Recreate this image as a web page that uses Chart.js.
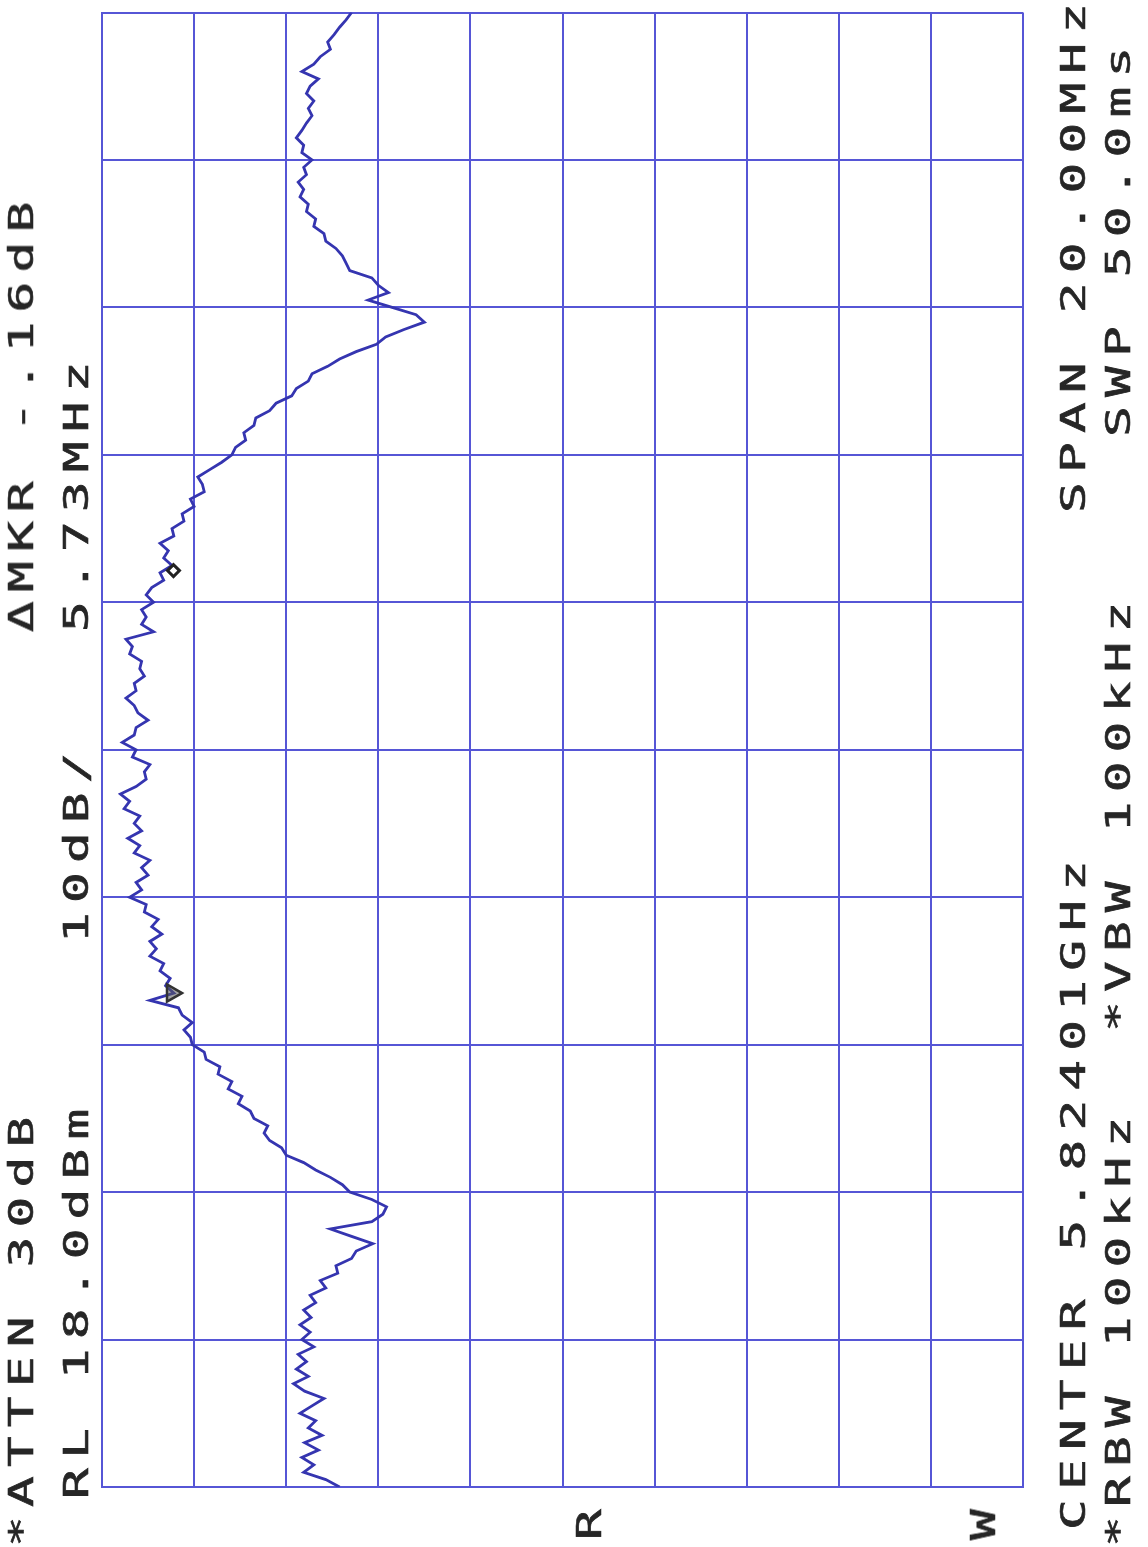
<!DOCTYPE html>
<html>
<head>
<meta charset="utf-8">
<script src="https://cdn.jsdelivr.net/npm/chart.js@4.4.1/dist/chart.umd.min.js"></script>
<style>
  html, body { margin:0; padding:0; background:#ffffff; overflow:hidden; }
  #wrap { position:relative; width:1148px; height:1547px; }
  canvas { position:absolute; left:0; top:0; }
  .t { position:absolute; font-family:'DejaVu Sans Mono', monospace; font-size:33px; line-height:33px;
       letter-spacing:5.9px; color:#262626; white-space:pre; transform-origin:0 0;
       transform:rotate(-90deg) scale(1.55,1); -webkit-text-stroke:0.6px #262626; }
</style>
</head>
<body>
<div id="wrap">
  <canvas id="c" width="1148" height="1547"></canvas>
  <div class="t" style="left:5px;top:1547px">*ATTEN 30dB</div>
  <div class="t" style="left:5px;top:632px">ΔMKR -.16dB</div>
  <div class="t" style="left:60px;top:1499px">RL 18.0dBm</div>
  <div class="t" style="left:60px;top:943px">10dB/</div>
  <div class="t" style="left:60px;top:632px">5.73MHz</div>
  <div class="t" style="left:1057px;top:1530px">CENTER 5.82401GHz</div>
  <div class="t" style="left:1057px;top:513px">SPAN 20.00MHz</div>
  <div class="t" style="left:1102px;top:1547px">*RBW 100kHz</div>
  <div class="t" style="left:1102px;top:1032px">*VBW 100kHz</div>
  <div class="t" style="left:1102px;top:437px">SWP 50.0ms</div>
  <div class="t" style="left:573px;top:1540px">R</div>
  <div class="t" style="left:967px;top:1540px">W</div>
</div>
<script>
// Sweep: 201 points, offset from centre frequency (MHz), 5.82401 GHz centre, 20 MHz span
const FREQ_START = -10;   // MHz
const FREQ_STEP = 0.1;    // MHz per sweep point
// Trace amplitude (dBm), low frequency -> high frequency
const traceDbm = [
  -7.8,-6.3,-3.9,-5.0,-3.7,-5.5,-4.0,-5.9,-4.4,-5.2,
  -3.5,-4.8,-6.1,-4.0,-2.8,-4.4,-3.1,-4.2,-3.3,-5.0,
  -3.7,-4.6,-3.5,-4.7,-3.9,-5.2,-4.6,-6.3,-5.7,-7.6,
  -7.4,-9.1,-9.6,-11.4,-9.1,-6.8,-11.3,-12.5,-12.9,-11.3,
  -8.9,-8.1,-6.8,-5.2,-3.9,-2.0,-1.5,-0.2,0.4,0.0,
  1.5,1.9,3.2,2.8,4.3,3.9,5.4,5.2,6.7,6.9,
  8.2,8.4,9.1,8.2,9.3,9.7,12.8,10.2,11.1,10.6,
  11.7,11.3,12.8,12.1,12.8,11.5,12.6,11.9,13.4,13.2,
  15.0,13.7,14.3,13.0,13.7,12.8,14.5,13.9,15.2,13.7,
  14.5,13.9,15.6,15.0,16.0,14.3,13.2,13.4,12.8,14.7,
  14.3,15.8,14.5,14.3,13.0,14.1,14.5,15.4,14.3,14.5,
  13.4,13.9,13.7,15.0,14.7,15.4,12.4,13.7,13.2,13.7,
  12.4,13.2,12.6,11.3,11.7,10.4,11.3,10.8,11.7,10.2,
  10.4,9.1,9.3,8.0,8.4,6.9,7.1,7.6,6.3,5.0,
  3.9,3.5,2.4,2.6,1.5,1.3,-0.2,-0.9,-2.6,-3.1,
  -4.4,-4.8,-6.5,-7.8,-9.6,-11.8,-12.8,-14.8,-17.0,-16.1,
  -13.5,-10.9,-13.1,-12.0,-11.3,-8.9,-8.5,-8.1,-7.4,-6.3,
  -6.1,-5.0,-5.2,-4.2,-4.4,-3.5,-3.9,-3.3,-4.2,-3.9,
  -4.8,-3.7,-3.9,-3.1,-3.7,-4.2,-4.8,-4.4,-5.0,-4.2,
  -4.6,-5.5,-3.7,-5.0,-5.7,-6.8,-6.5,-7.2,-7.8,-8.5,
  -9.1
];
// Markers: reference (triangle) and delta (diamond)
const markerRef = [{ f: -3.30, dbm: 10.4 }];
const markerDelta = [{ f: 2.43, dbm: 10.24 }];
// Graticule: 10 dB/div from RL 18 dBm, 2 MHz/div
const AMP_TICKS = [18, 8, -2, -12, -22, -32, -42, -52, -62, -72, -82];
const FREQ_TICKS = [-10, -8, -6, -4, -2, 0, 2, 4, 6, 8, 10];

const GRID = '#5656d6';
const TRACE = '#3535b0';

const tracePts = traceDbm.map((v, i) => ({ x: v, y: FREQ_START + i * FREQ_STEP }));

new Chart(document.getElementById('c'), {
  type: 'line',
  data: {
    datasets: [
      { label: 'Ref', data: markerRef.map(m => ({ x: m.dbm, y: m.f })), showLine: false,
        pointStyle: 'triangle', rotation: 90, pointRadius: 10, borderColor: '#333', borderWidth: 2.5,
        backgroundColor: 'rgba(90,90,90,0.55)', order: 0 },
      { label: 'Delta', data: markerDelta.map(m => ({ x: m.dbm, y: m.f })), showLine: false,
        pointStyle: 'rectRot', pointRadius: 6, borderColor: '#222', borderWidth: 3,
        backgroundColor: '#ffffff', order: 0 },
      { label: 'Trace', data: tracePts, borderColor: TRACE, borderWidth: 2.8, pointRadius: 0,
        tension: 0, fill: false, order: 1 }
    ]
  },
  options: {
    indexAxis: 'y',
    responsive: false,
    animation: false,
    layout: { padding: { left: 102, top: 9, right: 125, bottom: 60 } },
    plugins: { legend: { display: false }, tooltip: { enabled: false } },
    scales: {
      x: {
        type: 'linear', min: -82, max: 18, reverse: true,
        afterBuildTicks: a => { a.ticks = AMP_TICKS.map(v => ({ value: v })); },
        ticks: { display: false },
        grid: { color: GRID, lineWidth: 2, drawTicks: false },
        border: { display: true, color: GRID, width: 2 }
      },
      y: {
        type: 'linear', min: -10, max: 10,
        afterBuildTicks: a => { a.ticks = FREQ_TICKS.map(v => ({ value: v })); },
        ticks: { display: false },
        grid: { color: GRID, lineWidth: 2, drawTicks: false },
        border: { display: true, color: GRID, width: 2 }
      }
    }
  }
});
</script>
</body>
</html>
